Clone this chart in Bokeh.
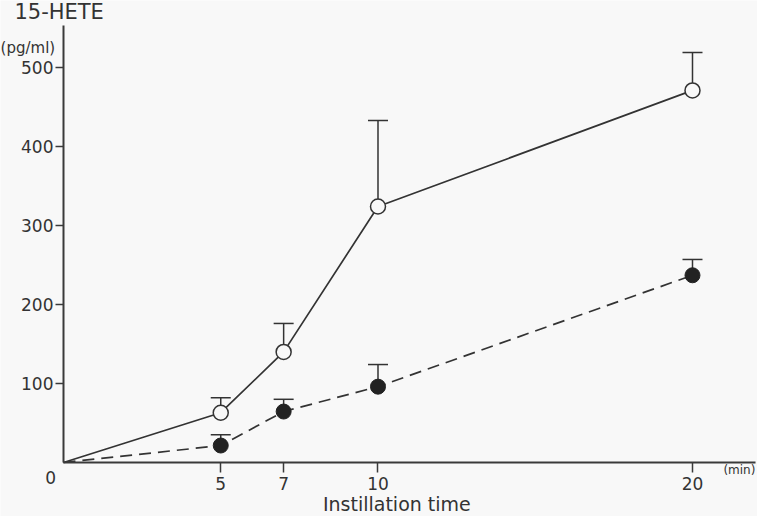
from bokeh.plotting import figure
from bokeh.models import (ColumnDataSource, Whisker, TeeHead, Label, FixedTicker,
                          Range1d, LinearAxis)
from bokeh.embed import file_html
from bokeh.resources import INLINE

# ---- data ----
time_min = [0, 5, 7, 10, 20]
open_vals = [0, 63, 140, 324, 471]
open_err = [0, 19, 36, 109, 48]
filled_vals = [0, 21.5, 64.5, 96, 237]
filled_err = [0, 13.5, 15.5, 28, 20]
x_ticks = [5, 7, 10, 20]
y_ticks = [100, 200, 300, 400, 500]

BG = "#f8f8f8"
INK = "#333333"
FONT = "DejaVu Sans"

p = figure(width=757, height=516, x_range=Range1d(-2.003, 22.067), y_range=Range1d(-68.35, 584.8),
           x_axis_type=None, y_axis_type=None,
           output_backend="svg", toolbar_location=None,
           min_border=0)
p.background_fill_color = BG
p.border_fill_color = BG
p.outline_line_color = None
p.grid.visible = False

xax = LinearAxis(fixed_location=0, bounds=(0, 22), ticker=FixedTicker(ticks=x_ticks))
yax = LinearAxis(fixed_location=0, bounds=(0, 553), ticker=FixedTicker(ticks=y_ticks))
for ax in (xax, yax):
    ax.axis_line_color = "#3a3a3a"
    ax.axis_line_width = 2
    ax.major_tick_line_color = "#3a3a3a"
    ax.major_tick_line_width = 1.5
    ax.major_tick_in = 0
    ax.minor_tick_line_color = None
    ax.major_label_text_font = FONT
    ax.major_label_text_color = INK
    ax.major_label_text_font_size = "17px"
xax.major_tick_out = 10
xax.major_label_standoff = 4
yax.major_tick_out = 8
yax.major_label_standoff = 2
p.add_layout(xax, "below")
p.add_layout(yax, "left")

src_open = ColumnDataSource(dict(t=time_min, y=open_vals))
src_fill = ColumnDataSource(dict(t=time_min, y=filled_vals))

# error bars (upper only), skip the origin point
eb_open = ColumnDataSource(dict(t=time_min[1:], y=open_vals[1:],
                                top=[v + e for v, e in zip(open_vals[1:], open_err[1:])]))
eb_fill = ColumnDataSource(dict(t=time_min[1:], y=filled_vals[1:],
                                top=[v + e for v, e in zip(filled_vals[1:], filled_err[1:])]))
for s in (eb_open, eb_fill):
    w = Whisker(source=s, base="t", lower="y", upper="top", dimension="height",
                line_color=INK, line_width=1.5, lower_head=None,
                upper_head=TeeHead(size=20, line_color=INK, line_width=1.5))
    p.add_layout(w)

p.line("t", "y", source=src_open, line_color=INK, line_width=1.7)
p.line("t", "y", source=src_fill, line_color=INK, line_width=1.7, line_dash="12 7")

p.scatter(time_min[1:], open_vals[1:], size=15, marker="circle",
          fill_color=BG, line_color=INK, line_width=1.5)
p.scatter(time_min[1:], filled_vals[1:], size=15, marker="circle",
          fill_color="#222222", line_color="#222222", line_width=1)

# texts
p.add_layout(Label(x=-1.56, y=570, text="15-HETE", text_font=FONT, text_font_size="21px",
                   text_color=INK, text_baseline="alphabetic", text_align="left"))
p.add_layout(Label(x=-2.0, y=525, text="(pg/ml)", text_font=FONT, text_font_size="15px",
                   text_color=INK, text_baseline="middle", text_align="left"))
p.add_layout(Label(x=-0.41, y=-19, text="0", text_font=FONT, text_font_size="17px",
                   text_color=INK, text_baseline="middle", text_align="center"))
p.add_layout(Label(x=22.0, y=-9, text="(min)", text_font=FONT, text_font_size="12px",
                   text_color=INK, text_baseline="middle", text_align="right"))
p.add_layout(Label(x=10.6, y=-53, text="Instillation time", text_font=FONT, text_font_size="19px",
                   text_color=INK, text_baseline="middle", text_align="center"))

open("out.html", "w").write(file_html(p, INLINE))
